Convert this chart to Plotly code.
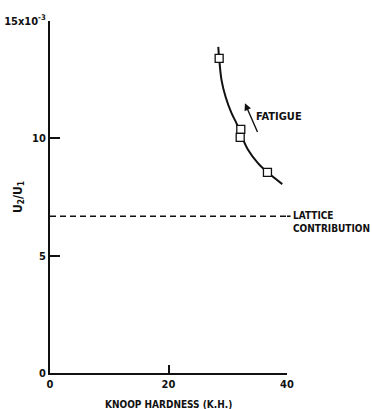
import plotly.graph_objects as go

# Measured fatigue points (Knoop hardness vs U2/U1, in units of 1e-3)
kh_points = [28.55, 32.2, 32.1, 36.7]
ratio_points = [13.41, 10.38, 10.04, 8.55]

# Smooth trend curve through the fatigue points
kh_curve = [28.4, 28.55, 28.95, 29.63, 30.64, 31.48, 32.15, 33.45, 35.13, 36.7, 39.2]
ratio_curve = [13.9, 13.41, 12.48, 11.77, 11.07, 10.64, 10.22, 9.5, 8.93, 8.55, 8.05]

# Lattice contribution level (1e-3)
lattice_level = 6.68

# Arrow indicating the fatigue direction
arrow_tail = (35.13, 10.21)
arrow_head = (32.9, 11.49)

x_ticks = [0, 20, 40]
x_ticklabels = ["0", "20", "40"]
y_ticks = [0, 5, 10, 15]
y_ticklabels = ["0", "5", "10", "15x10<sup>-3</sup>"]

FONT = "DejaVu Sans Condensed, Liberation Sans, sans-serif"
ink = "#111111"

fig = go.Figure()

fig.add_trace(go.Scatter(
    x=kh_curve, y=ratio_curve, mode="lines",
    line=dict(color=ink, width=2, shape="spline", smoothing=1.0),
    hoverinfo="skip", showlegend=False,
))
fig.add_trace(go.Scatter(
    x=kh_points, y=ratio_points, mode="markers",
    marker=dict(symbol="square", size=8, color="white",
                line=dict(color=ink, width=1.3)),
    showlegend=False,
))

# Lattice contribution dashed line, running slightly past the axis end
fig.add_shape(
    type="line", xref="x", yref="y",
    x0=0, x1=40, y0=lattice_level, y1=lattice_level,
    line=dict(color=ink, width=1.6, dash="6px,4px"),
)
fig.add_shape(
    type="line", xref="paper", yref="y",
    x0=1.0, x1=1.015, y0=lattice_level, y1=lattice_level,
    line=dict(color=ink, width=1.6),
)

fig.add_annotation(
    x=arrow_head[0], y=arrow_head[1], ax=arrow_tail[0], ay=arrow_tail[1],
    xref="x", yref="y", axref="x", ayref="y",
    showarrow=True, arrowhead=2, arrowsize=1.0, arrowwidth=1.4,
    arrowcolor=ink, text="",
)

fig.add_annotation(x=34.5, y=10.95, xref="x", yref="y", text="FATIGUE",
                   showarrow=False, xanchor="left", yanchor="middle",
                   font=dict(family=FONT, size=11, color=ink, weight="bold"))
fig.add_annotation(x=1.015, y=lattice_level, xref="paper", yref="y",
                   text="LATTICE<br>CONTRIBUTION", align="left",
                   showarrow=False, xanchor="left", yanchor="top", yshift=8,
                   font=dict(family=FONT, size=10, color=ink, weight="bold"))

# Axis titles
fig.add_annotation(x=-0.131, y=0.5, xref="paper", yref="paper",
                   text="U<sub>2</sub>/U<sub>1</sub>", textangle=-90,
                   showarrow=False, xanchor="center", yanchor="middle",
                   font=dict(family=FONT, size=12, color=ink, weight="bold"))
fig.add_annotation(x=0.5, y=-0.09, xref="paper", yref="paper",
                   text="KNOOP HARDNESS (K.H.)",
                   showarrow=False, xanchor="center", yanchor="middle",
                   font=dict(family=FONT, size=10, color=ink, weight="bold"))

fig.update_layout(
    width=372, height=409,
    margin=dict(l=50, r=85, t=21, b=36),
    paper_bgcolor="white", plot_bgcolor="white",
    showlegend=False,
    font=dict(family=FONT, size=11, color=ink),
    xaxis=dict(
        range=[0, 40], tickvals=x_ticks, ticktext=x_ticklabels,
        automargin=False,
        showgrid=False, zeroline=False, showline=True, linecolor=ink,
        linewidth=2, ticks="inside", ticklen=8, tickwidth=1.5, tickcolor=ink,
        tickfont=dict(family=FONT, size=11, color=ink, weight="bold"),
    ),
    yaxis=dict(
        range=[0, 15], tickvals=y_ticks, ticktext=y_ticklabels,
        automargin=False,
        showgrid=False, zeroline=False, showline=True, linecolor=ink,
        linewidth=2, ticks="inside", ticklen=10, tickwidth=1.5, tickcolor=ink,
        tickfont=dict(family=FONT, size=11, color=ink, weight="bold"),
    ),
)

fig.write_html("out.html")
